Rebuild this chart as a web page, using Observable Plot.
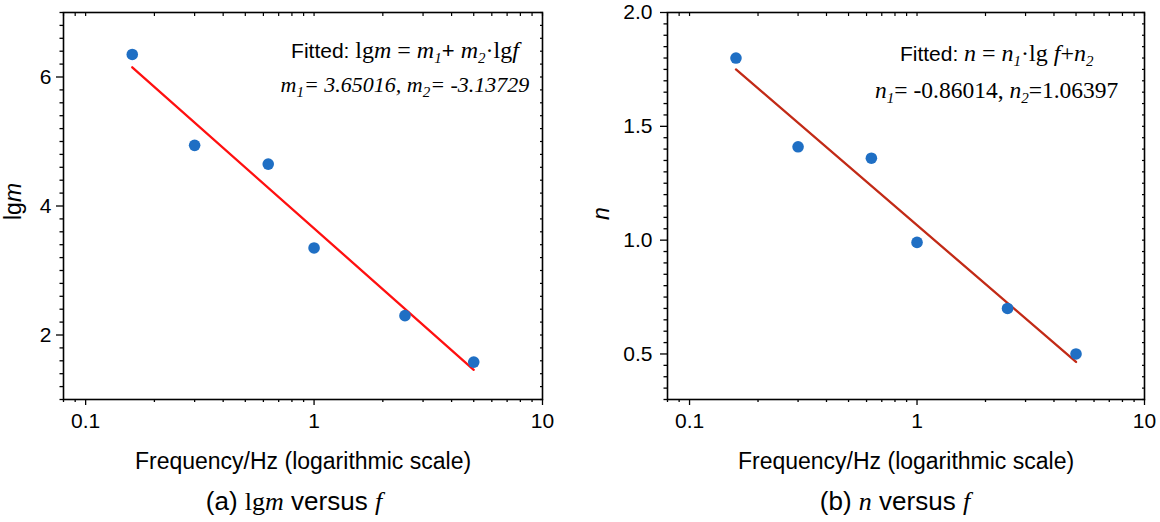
<!DOCTYPE html>
<html><head><meta charset="utf-8">
<script src="https://cdn.jsdelivr.net/npm/d3@7"></script>
<script src="https://cdn.jsdelivr.net/npm/@observablehq/plot@0.6"></script>
<style>
body{margin:0;background:#fff;}
#wrap{display:flex;width:1160px;height:522px;overflow:hidden;}
.panel{position:relative;width:580px;height:522px;}
.cap{position:absolute;top:488px;font-family:"Liberation Sans",Arial,sans-serif;font-size:26px;line-height:26px;white-space:nowrap;transform:translateX(-50%);color:#000;}
.serif{font-family:"Liberation Serif","Times New Roman",serif;}
</style></head>
<body>
<div id="wrap">
  <div class="panel" id="pa"><div class="cap" style="left:294px">(a) <span class="serif">lg<i>m</i></span> versus <span class="serif"><i>f</i></span></div></div>
  <div class="panel" id="pb"><div class="cap" style="left:315px">(b) <span class="serif"><i>n</i></span> versus <span class="serif"><i>f</i></span></div></div>
</div>
<script>
// ---- data ----
const freq = [0.16, 0.3, 0.63, 1, 2.5, 5];
const lgmValues = [6.35, 4.94, 4.65, 3.35, 2.30, 1.58];
const nValues = [1.80, 1.41, 1.36, 0.99, 0.70, 0.50];
const fitFreq = [0.16, 5];
const fitLgm = [6.15, 1.46];
const fitN = [1.75, 0.465];
const xMajor = [0.1, 1, 10];
const xMinor = [0.08, 0.09, 0.2, 0.3, 0.4, 0.5, 0.6, 0.7, 0.8, 0.9, 2, 3, 4, 5, 6, 7, 8, 9];
const yMajorA = [2, 4, 6];
const yMajorB = [0.5, 1.0, 1.5, 2.0];
const xTitle = "Frequency/Hz (logarithmic scale)";
const annA = [
  {x: 2.5, y: 6.3, plain: "Fitted: lgm = m1+ m2·lgf"},
  {x: 2.5, y: 5.76, plain: "m1= 3.65016, m2= -3.13729"}
];
const annB = [
  {x: 2.24, y: 1.785, plain: "Fitted: n = n1·lg f+n2"},
  {x: 2.24, y: 1.625, plain: "n1= -0.86014, n2=1.06397"}
];

const SANS = "Liberation Sans, Arial, sans-serif";
const SERIF = "Liberation Serif, Times New Roman, serif";
const BLUE = "#1f6fc4";

// rich text segments: [text, family('s'|'r'), italic, subscript, size]
const richMap = {
  "Fitted: lgm = m1+ m2·lgf": [["Fitted: ","s",0,0,21],["lg","r",0,0,24],["m","r",1,0,24],[" = ","r",0,0,24],["m","r",1,0,24],["1","r",1,1],["+ ","s",0,0,22],["m","r",1,0,24],["2","r",1,1],["·lg","r",0,0,24],["f","r",1,0,24]],
  "m1= 3.65016, m2= -3.13729": [["m","r",1],["1","r",1,1],["= 3.65016, m","r",1],["2","r",1,1],["= -3.13729","r",1]],
  "Fitted: n = n1·lg f+n2": [["Fitted: ","s",0,0,21],["n","r",1,0,24],[" = ","r",0,0,24],["n","r",1,0,24],["1","r",1,1],["·lg ","r",0,0,24],["f","r",1,0,24],["+","r",0,0,24],["n","r",1,0,24],["2","r",1,1]],
  "n1= -0.86014, n2=1.06397": [["n","r",1,0,23.5],["1","r",1,1],["= -0.86014, ","r",0,0,23.5],["n","r",1,0,23.5],["2","r",1,1],["=1.06397","r",0,0,23.5]],
  "lgm": [["lg","s"],["m","s",1]],
  "n": [["n","s",1]]
};
function rich(segs) {
  let out = "", shifted = false;
  for (const [t, f, it, sub, size] of segs) {
    const a = [`font-family="${f === "s" ? SANS : SERIF}"`];
    if (it) a.push('font-style="italic"');
    if (sub && !shifted) { a.push('dy="5"'); shifted = true; }
    else if (!sub && shifted) { a.push('dy="-5"'); shifted = false; }
    if (sub) a.push('font-size="15"');
    else if (size) a.push(`font-size="${size}"`);
    out += `<tspan ${a.join(" ")}>${t}</tspan>`;
  }
  return out;
}

function panel(cfg) {
  const pts = freq.map((f, i) => ({f, v: cfg.vals[i]}));
  const fit = fitFreq.map((f, i) => ({f, v: cfg.fit[i]}));
  const xAll = xMajor.concat(xMinor);
  const yAll = cfg.yMajor.concat(cfg.yMinor);
  const svg = Plot.plot({
    width: 580, height: 480,
    marginLeft: cfg.ml, marginRight: cfg.mr, marginTop: 12, marginBottom: 81,
    style: {fontFamily: SANS, fontSize: "21px", color: "black", background: "white", overflow: "visible"},
    x: {type: "log", domain: [0.08, 10]},
    y: {domain: cfg.yDomain},
    marks: [
      Plot.axisX({ticks: xMajor, tickSize: 6, tickPadding: 8, tickFormat: d => String(d), label: null, strokeWidth: 1.3, fontSize: 21}),
      Plot.axisX({ticks: xMinor, tickSize: 3, tickFormat: () => "", label: null, strokeWidth: 1.3}),
      Plot.axisX({anchor: "top", ticks: xAll, tickSize: -3, tickFormat: () => "", label: null, strokeWidth: 1.2}),
      Plot.axisY({ticks: cfg.yMajor, tickSize: 7, tickPadding: cfg.tp, tickFormat: cfg.fmt, label: null, strokeWidth: 1.3, fontSize: 21}),
      Plot.axisY({ticks: cfg.yMinor, tickSize: 3.5, tickFormat: () => "", label: null, strokeWidth: 1.3}),
      Plot.axisY({anchor: "right", ticks: yAll, tickSize: -3, tickFormat: () => "", label: null, strokeWidth: 1.2}),
      Plot.frame({stroke: "black", strokeWidth: 1.6}),
      Plot.line(fit, {x: "f", y: "v", stroke: cfg.lineColor, strokeWidth: 2.3}),
      Plot.dot(pts, {x: "f", y: "v", r: 5.8, fill: BLUE}),
      Plot.text([xTitle], {frameAnchor: "bottom", dy: 69, lineAnchor: "bottom", fontSize: 23}),
      Plot.text([cfg.yTitle], {frameAnchor: "left", rotate: -90, dx: cfg.ydx, dy: 14, lineAnchor: "bottom", fontSize: 23}),
      Plot.text(cfg.ann, {x: "x", y: "y", text: "plain", lineAnchor: "bottom", fontFamily: SERIF, fontSize: 22})
    ]
  });
  svg.querySelectorAll("text").forEach(t => {
    const k = t.textContent;
    if (richMap[k] && t.children.length === 0) { t.innerHTML = rich(richMap[k]); t.style.whiteSpace = "pre"; }
  });
  return svg;
}

const yMinorA = d3.range(5, 36).map(i => i / 5).filter(v => !yMajorA.includes(v));
const yMinorB = d3.range(6, 41).map(i => i / 20).filter(v => !yMajorB.includes(v));

document.getElementById("pa").prepend(panel({
  vals: lgmValues, fit: fitLgm, yDomain: [1, 7], yMajor: yMajorA, yMinor: yMinorA,
  fmt: d => String(d), tp: 5, ml: 63, mr: 38, lineColor: "#ff1010", yTitle: "lgm", ydx: -43, ann: annA
}));
document.getElementById("pb").prepend(panel({
  vals: nValues, fit: fitN, yDomain: [0.3, 2.0], yMajor: yMajorB, yMinor: yMinorB,
  fmt: d3.format(".1f"), tp: 8, ml: 87, mr: 16, lineColor: "#c22a16", yTitle: "n", ydx: -59, ann: annB
}));
</script>
</body></html>
